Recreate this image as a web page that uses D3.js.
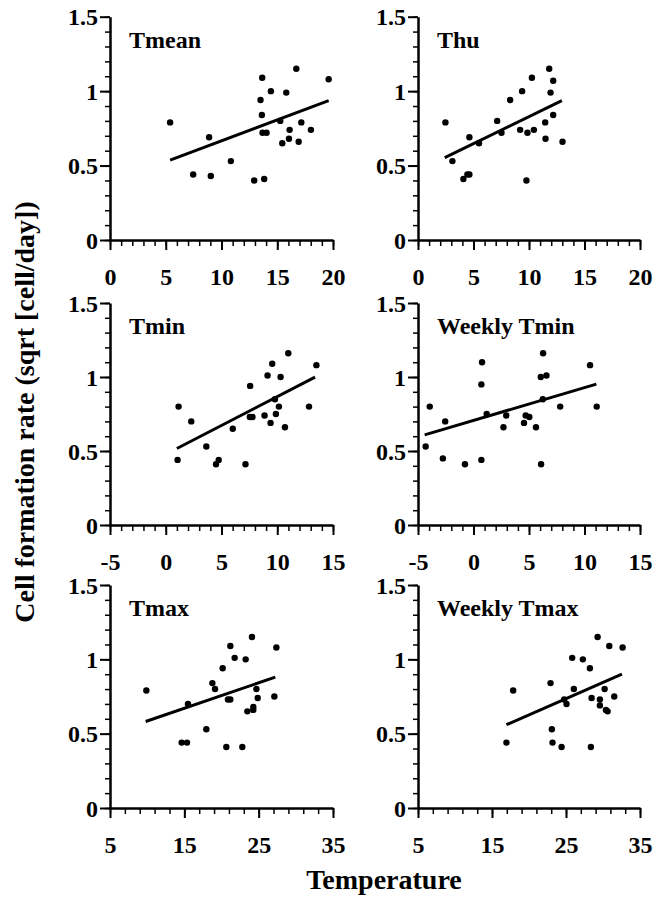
<!DOCTYPE html>
<html>
<head>
<meta charset="utf-8">
<script src="https://cdn.jsdelivr.net/npm/d3@7"></script>
<style>
  body { margin: 0; background: #fff; }
  svg text { font-family: "Liberation Serif", "Times New Roman", serif !important; font-weight: bold; fill: #000; }
</style>
</head>
<body>
<svg id="chart" width="655" height="898"></svg>
<script>
// panel names, in reading order
var panelNames = ["Tmean", "Thu", "Tmin", "Weekly Tmin", "Tmax", "Weekly Tmax"];

// x axis of each panel
var xDomains = [[0, 20], [0, 20], [-5, 15], [-5, 15], [5, 35], [5, 35]];
var xMajorTicks = [[0, 5, 10, 15, 20], [0, 5, 10, 15, 20], [-5, 0, 5, 10, 15], [-5, 0, 5, 10, 15], [5, 15, 25, 35], [5, 15, 25, 35]];
var xMinorStep = [1, 1, 1, 1, 2, 2];

// y axis (shared)
var yDomain = [0, 1.5];
var yMajorTicks = [0, 0.5, 1, 1.5];
var yMinorTicks = [0, 0.1, 0.2, 0.3, 0.4, 0.5, 0.6, 0.7, 0.8, 0.9, 1, 1.1, 1.2, 1.3, 1.4, 1.5];

// points: temperature (x) and cell formation rate (y)
var tmeanX = [5.39, 7.46, 8.89, 9.04, 10.84, 12.93, 13.83, 13.50, 13.65, 13.62, 13.68, 14.04, 14.43, 15.27, 15.45, 15.81, 16.05, 16.11, 16.71, 16.92, 17.16, 18.02, 19.61];
var tmeanY = [0.79, 0.44, 0.69, 0.43, 0.53, 0.40, 0.41, 0.94, 1.09, 0.84, 0.72, 0.72, 1.00, 0.80, 0.65, 0.99, 0.68, 0.74, 1.15, 0.66, 0.79, 0.74, 1.08];

var thuX = [2.47, 3.10, 4.09, 4.45, 4.63, 4.63, 5.50, 7.13, 7.52, 8.30, 9.20, 9.38, 9.77, 9.86, 10.26, 10.44, 11.46, 11.49, 11.82, 11.94, 12.18, 12.18, 13.02];
var thuY = [0.79, 0.53, 0.41, 0.44, 0.44, 0.69, 0.65, 0.80, 0.72, 0.94, 0.74, 1.00, 0.40, 0.72, 1.09, 0.74, 0.79, 0.68, 1.15, 0.99, 1.07, 0.84, 0.66];

var tminX = [1.06, 1.15, 2.29, 3.64, 4.51, 4.75, 6.01, 7.15, 7.57, 7.54, 7.78, 8.86, 9.13, 9.40, 9.55, 9.79, 9.88, 10.15, 10.30, 10.69, 10.99, 12.85, 13.51];
var tminY = [0.44, 0.80, 0.70, 0.53, 0.41, 0.44, 0.65, 0.41, 0.94, 0.73, 0.73, 0.74, 1.01, 0.69, 1.09, 0.85, 0.75, 0.80, 1.00, 0.66, 1.16, 0.80, 1.08];

var wTminX = [-4.31, -3.94, -2.76, -2.55, -0.77, 0.71, 0.71, 0.77, 1.19, 2.70, 2.95, 4.55, 4.70, 5.03, 5.63, 6.06, 6.09, 6.24, 6.27, 6.57, 7.81, 10.50, 11.10];
var wTminY = [0.53, 0.80, 0.45, 0.70, 0.41, 0.44, 0.95, 1.10, 0.75, 0.66, 0.74, 0.69, 0.74, 0.73, 0.66, 1.00, 0.41, 0.85, 1.16, 1.01, 0.80, 1.08, 0.80];

var tmaxX = [9.89, 14.64, 15.36, 15.49, 17.96, 18.77, 19.13, 20.16, 20.65, 20.87, 21.19, 21.19, 21.77, 22.80, 23.25, 23.48, 24.10, 24.28, 24.28, 24.69, 24.87, 27.11, 27.38];
var tmaxY = [0.79, 0.44, 0.44, 0.70, 0.53, 0.84, 0.80, 0.94, 0.41, 0.73, 0.73, 1.09, 1.01, 0.41, 1.00, 0.65, 1.15, 0.68, 0.66, 0.80, 0.74, 0.75, 1.08];

var wTmaxX = [16.95, 17.86, 22.91, 23.09, 23.18, 24.40, 24.76, 25.07, 25.84, 26.06, 27.28, 28.23, 28.36, 28.46, 29.27, 29.58, 29.58, 30.22, 30.40, 30.62, 30.85, 31.52, 32.65];
var wTmaxY = [0.44, 0.79, 0.84, 0.53, 0.44, 0.41, 0.73, 0.70, 1.01, 0.80, 1.00, 0.94, 0.41, 0.74, 1.15, 0.73, 0.69, 0.80, 0.66, 0.65, 1.09, 0.75, 1.08];

// fitted regression lines: [x start, x end] and [y start, y end]
var fitX = [[5.39, 19.61], [2.41, 12.96], [1.0, 13.39], [-4.40, 11.07], [9.80, 27.24], [16.95, 32.56]];
var fitY = [[0.537, 0.936], [0.553, 0.936], [0.517, 0.999], [0.609, 0.952], [0.582, 0.880], [0.560, 0.900]];

var pointsX = [tmeanX, thuX, tminX, wTminX, tmaxX, wTmaxX];
var pointsY = [tmeanY, thuY, tminY, wTminY, tmaxY, wTmaxY];

// layout
var cols = [[110, 333], [418, 640]];
var rows = [[16.7, 240], [303, 525], [585, 808]];
var serif = '"Liberation Serif", "Times New Roman", serif';

var svg = d3.select('#chart');

panelNames.forEach(function(name, i){
  var col = cols[i % 2], row = rows[Math.floor(i / 2)];
  var x = d3.scaleLinear().domain(xDomains[i]).range(col);
  var y = d3.scaleLinear().domain(yDomain).range([row[1], row[0]]);
  var g = svg.append('g').attr('class', 'panel');

  // minor ticks
  var xd = xDomains[i];
  g.append('g')
    .attr('transform', 'translate(0,' + row[1] + ')')
    .call(d3.axisBottom(x).tickValues(d3.range(xd[0], xd[1] + 0.001, xMinorStep[i])).tickSize(6).tickSizeOuter(0).tickFormat(''))
    .call(function(a){ a.select('.domain').remove(); a.selectAll('line').attr('stroke-width', 1.5); });
  g.append('g')
    .attr('transform', 'translate(' + col[0] + ',0)')
    .call(d3.axisLeft(y).tickValues(yMinorTicks).tickSize(5).tickSizeOuter(0).tickFormat(''))
    .call(function(a){ a.select('.domain').remove(); a.selectAll('line').attr('stroke-width', 1.5); });

  // major ticks + labels
  var xa = g.append('g')
    .attr('transform', 'translate(0,' + row[1] + ')')
    .call(d3.axisBottom(x).tickValues(xMajorTicks[i]).tickSize(10).tickSizeOuter(0).tickFormat(function(d){ return String(d); }));
  xa.attr('font-family', serif).attr('font-size', 24);
  xa.select('.domain').attr('stroke-width', 2.5);
  xa.selectAll('line').attr('stroke-width', 2);
  xa.selectAll('text').attr('y', 45).attr('dy', 0)
    .attr('transform', function(){ return 'translate(0,0)'; })
    .style('font-size', '24px');

  var ya = g.append('g')
    .attr('transform', 'translate(' + col[0] + ',0)')
    .call(d3.axisLeft(y).tickValues(yMajorTicks).tickSize(10).tickSizeOuter(0).tickFormat(function(d){ return String(d); }));
  ya.attr('font-family', serif).attr('font-size', 24);
  ya.select('.domain').attr('stroke-width', 2.5);
  ya.selectAll('line').attr('stroke-width', 2);
  ya.selectAll('text').attr('x', -12).attr('dy', '0.34em').style('font-size', '24px');

  // regression line
  g.append('line')
    .attr('x1', x(fitX[i][0])).attr('y1', y(fitY[i][0]))
    .attr('x2', x(fitX[i][1])).attr('y2', y(fitY[i][1]))
    .attr('stroke', '#000').attr('stroke-width', 3);

  // points
  g.selectAll('circle.pt')
    .data(d3.zip(pointsX[i], pointsY[i]))
    .join('circle')
    .attr('class', 'pt')
    .attr('cx', function(d){ return x(d[0]); })
    .attr('cy', function(d){ return y(d[1]); })
    .attr('r', 3.2)
    .attr('fill', '#000');

  // panel title
  g.append('text')
    .attr('x', col[0] + 19)
    .attr('y', row[0] + 31)
    .style('font-size', '24px')
    .text(name);
});

// axis titles
svg.append('text')
  .attr('transform', 'translate(34,412) rotate(-90)')
  .attr('text-anchor', 'middle')
  .style('font-size', '28px')
  .text('Cell formation rate (sqrt [cell/day])');

svg.append('text')
  .attr('x', 384)
  .attr('y', 889)
  .attr('text-anchor', 'middle')
  .style('font-size', '28px')
  .text('Temperature');
</script>
</body>
</html>
